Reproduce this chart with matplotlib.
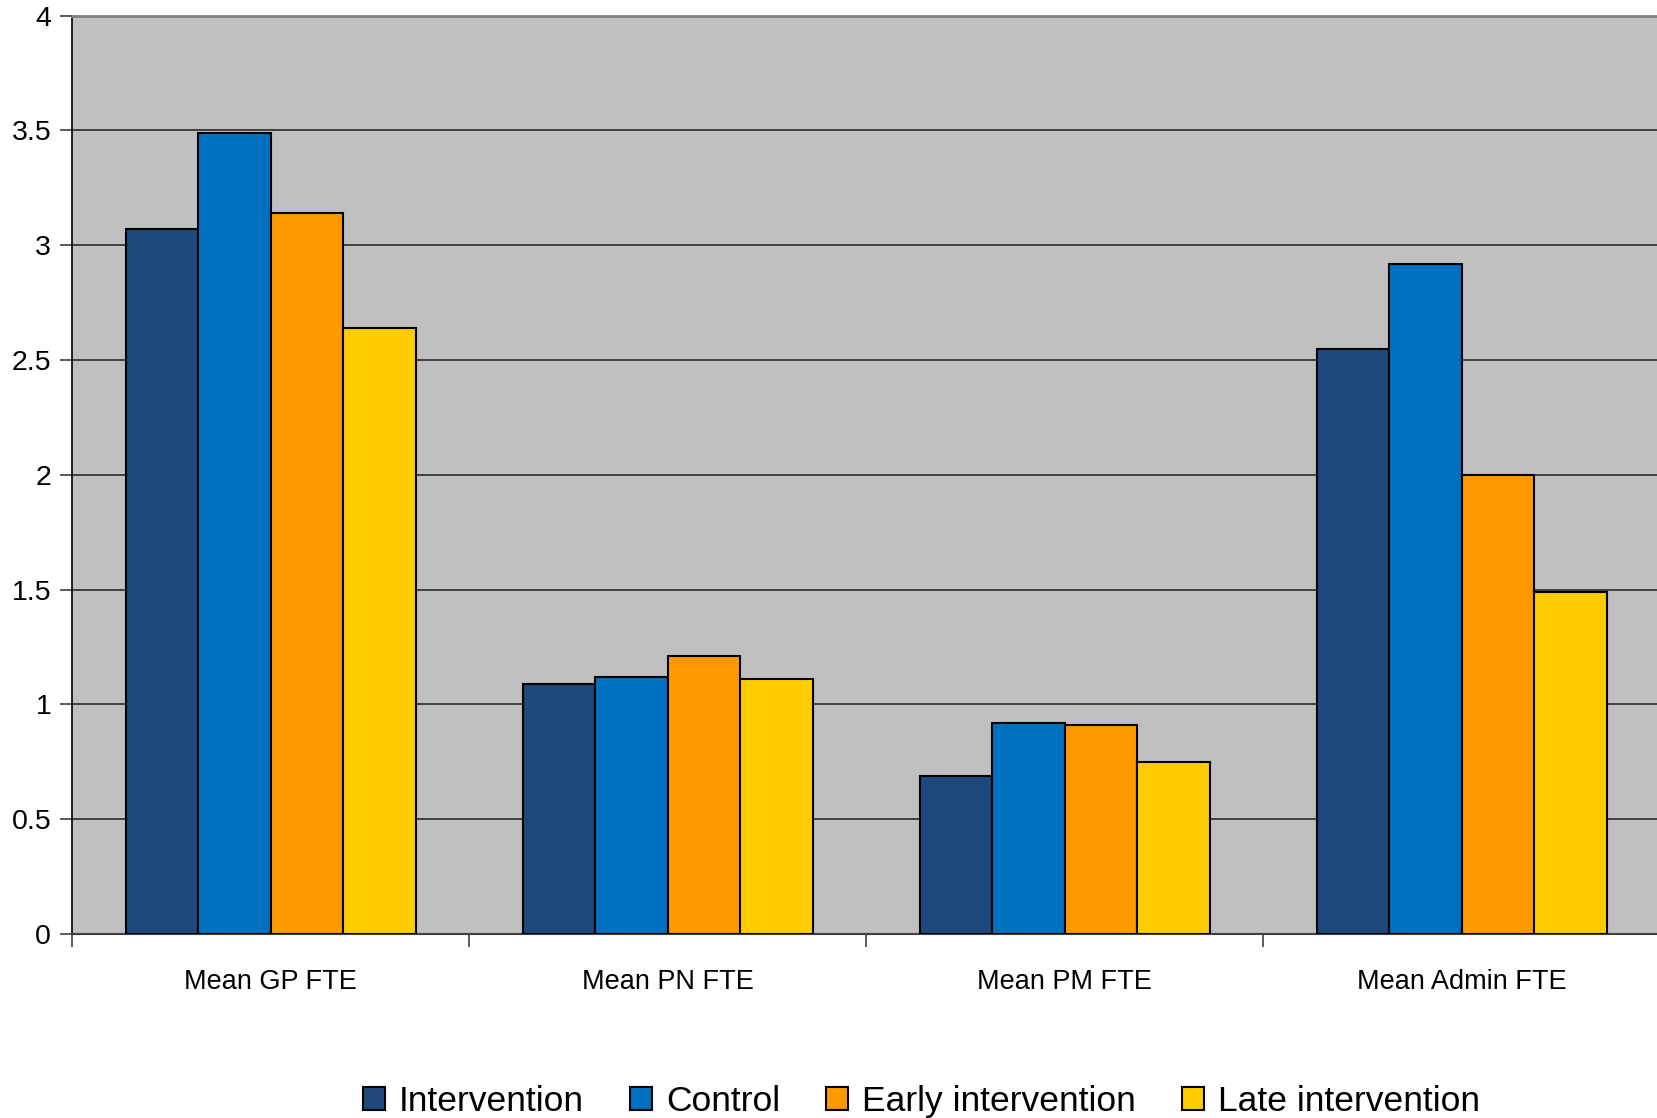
import numpy as np
import matplotlib.pyplot as plt

plt.rcParams['font.family'] = ['Liberation Sans', 'DejaVu Sans']

categorias = ['Mean GP FTE', 'Mean PN FTE', 'Mean PM FTE', 'Mean Admin FTE']
series = ['Intervention', 'Control', 'Early intervention', 'Late intervention']
intervention = [3.07, 1.09, 0.69, 2.55]
control      = [3.49, 1.12, 0.92, 2.92]
early        = [3.14, 1.21, 0.91, 2.00]
late         = [2.64, 1.11, 0.75, 1.49]
valores = [intervention, control, early, late]
cores = ['#1F487C', '#0070C0', '#FF9900', '#FFCC00']

fig = plt.figure(figsize=(16.57, 11.18), dpi=100)
ax = fig.add_axes([0.0435, 0.1646, 0.9585, 0.8214])
ax.set_facecolor('#C0C0C0')

x = np.arange(len(categorias))
largura = 0.1825
for k in range(len(series)):
    ax.bar(x + (k - 1.5) * largura, valores[k], largura, color=cores[k],
           edgecolor='black', linewidth=1.5, label=series[k], zorder=3)

ax.set_xlim(-0.5, len(categorias) - 0.5)
ax.set_ylim(0, 4)
ax.set_yticks(np.arange(0, 4.01, 0.5))
ax.set_yticklabels(['0', '0.5', '1', '1.5', '2', '2.5', '3', '3.5', '4'], fontsize=20.5)
ax.yaxis.grid(True, color='#2a2a2a', linewidth=1.2, zorder=1)

ax.set_xticks(x)
ax.set_xticklabels(categorias, fontsize=19.5)
ax.tick_params(axis='x', which='major', length=0, pad=25)
ax.set_xticks(np.arange(-0.5, len(categorias), 1.0), minor=True)
ax.tick_params(axis='x', which='minor', length=9, width=1.2, color='#404040')
ax.tick_params(axis='y', length=9, width=1.2, color='#404040', pad=6)

ax.spines['top'].set_color('#808080')
ax.spines['top'].set_linewidth(2)
ax.spines['right'].set_visible(False)
ax.spines['left'].set_color('black')
ax.spines['left'].set_linewidth(1.2)
ax.spines['bottom'].set_color('#404040')
ax.spines['bottom'].set_linewidth(1.5)

fig.legend(loc='center', bbox_to_anchor=(0.556, 0.015), ncol=4, frameon=False,
           fontsize=25.5, handlelength=0.62, handleheight=0.62, handletextpad=0.4,
           columnspacing=1.3)

fig.savefig('out.png', dpi=100)
